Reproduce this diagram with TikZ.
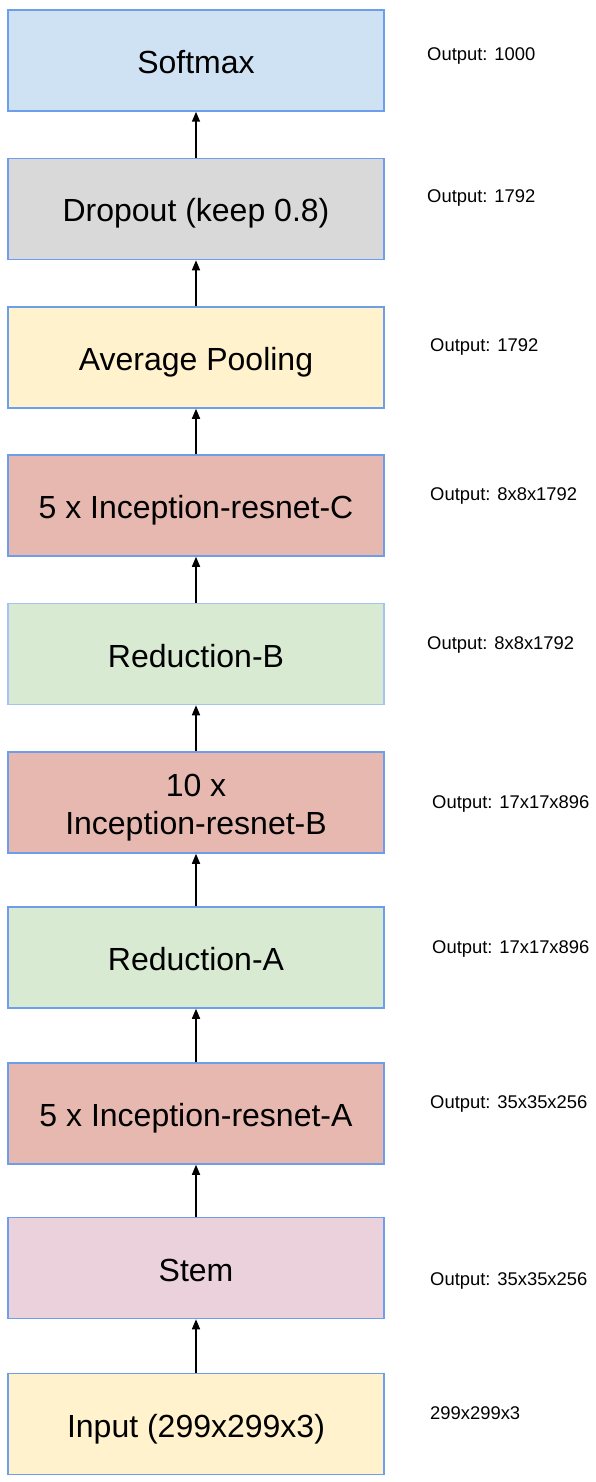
\documentclass[tikz,border=0pt]{standalone}
\usepackage{fontspec}
\setmainfont{Liberation Sans}
\usetikzlibrary{arrows.meta}
\definecolor{edgeblue}{HTML}{6D9EEB}
\definecolor{edgelight}{HTML}{A4C2F4}
\definecolor{softfill}{HTML}{CFE2F3}
\definecolor{dropfill}{HTML}{D9D9D9}
\definecolor{yellowfill}{HTML}{FFF2CC}
\definecolor{redfill}{HTML}{E6B8AF}
\definecolor{greenfill}{HTML}{D9EAD3}
\definecolor{pinkfill}{HTML}{EAD1DC}
\tikzset{
  layer/.style={draw=edgeblue, line width=1.5pt, minimum width=376pt,
    minimum height=101pt, inner sep=0pt, align=center,
    text height=30pt, text depth=4pt,
    font=\fontsize{32}{38}\selectfont},
  twoline/.style={text height=68pt, text depth=4pt},
  outlabel/.style={anchor=west, inner sep=0pt, font=\fontsize{18.4}{22}\selectfont},
  flow/.style={line width=1.5pt, -{Triangle[length=10pt,width=8pt]}}
}
\begin{document}
\begin{tikzpicture}[x=1pt,y=-1pt]
\useasboundingbox (0,0) rectangle (595,1482);
% layer stack, top to bottom
\node[layer, fill=softfill]   (soft) at (196,60.5)  {Softmax};
\node[layer, fill=dropfill]   (drop) at (196,209)   {Dropout (keep 0.8)};
\node[layer, fill=yellowfill] (pool) at (196,357.5) {Average Pooling};
\node[layer, fill=redfill]    (incc) at (196,505.5) {5 x Inception-resnet-C};
\node[layer, fill=greenfill, draw=edgelight] (redb) at (196,654) {Reduction-B};
\node[layer, twoline, fill=redfill] (incb) at (196,802.5) {10 x\\Inception-resnet-B};
\node[layer, fill=greenfill]  (reda) at (196,957.5) {Reduction-A};
\node[layer, fill=redfill]    (inca) at (196,1113.5) {5 x Inception-resnet-A};
\node[layer, fill=pinkfill]   (stem) at (196,1268)  {Stem};
\node[layer, fill=yellowfill] (inp)  at (196,1424)  {Input (299x299x3)};
% connectors
\draw[flow] (inp.north)  -- (stem.south);
\draw[flow] (stem.north) -- (inca.south);
\draw[flow] (inca.north) -- (reda.south);
\draw[flow] (reda.north) -- (incb.south);
\draw[flow] (incb.north) -- (redb.south);
\draw[flow] (redb.north) -- (incc.south);
\draw[flow] (incc.north) -- (pool.south);
\draw[flow] (pool.north) -- (drop.south);
\draw[flow] (drop.north) -- (soft.south);
% output shapes
\node[outlabel] (o1)  at (427,56)   {Output: 1000};
\node[outlabel] (o2)  at (427,197.5)  {Output: 1792};
\node[outlabel] (o3)  at (430,346.5)  {Output: 1792};
\node[outlabel] (o4)  at (430,495.5)  {Output: 8x8x1792};
\node[outlabel] (o5)  at (427,644.5)  {Output: 8x8x1792};
\node[outlabel] (o6)  at (432,803.5)  {Output: 17x17x896};
\node[outlabel] (o7)  at (432,948.5)  {Output: 17x17x896};
\node[outlabel] (o8)  at (430,1103.5) {Output: 35x35x256};
\node[outlabel] (o9)  at (430,1280.5) {Output: 35x35x256};
\node[outlabel] (o10) at (430,1413.5) {299x299x3};
\end{tikzpicture}
\end{document}
